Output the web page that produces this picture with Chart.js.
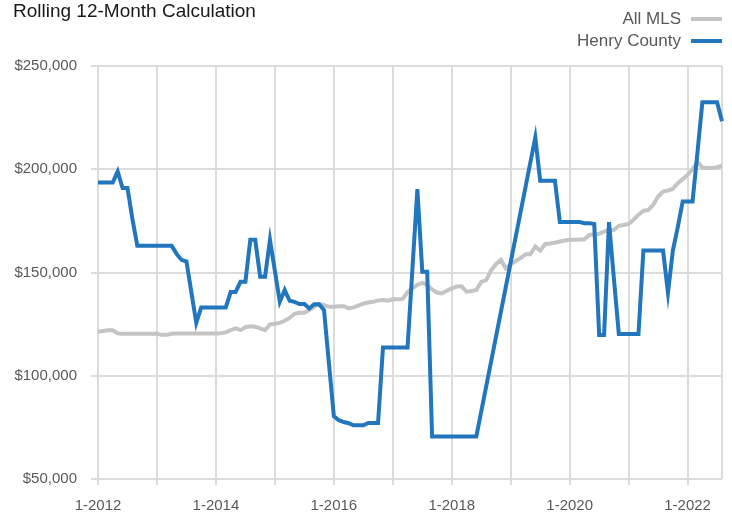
<!DOCTYPE html>
<html>
<head>
<meta charset="utf-8">
<script src="https://cdn.jsdelivr.net/npm/chart.js@4.4.6/dist/chart.umd.min.js"></script>
<style>
  html, body { margin: 0; padding: 0; background: #fff; }
  #wrap { position: relative; width: 732px; height: 514px; font-family: "Liberation Sans", Arial, sans-serif; }
  #title { position: absolute; left: 13px; top: 0; font-size: 19px; line-height: 22px; color: #1a1a1a; }
  .leg { position: absolute; right: 10px; display: flex; align-items: center; height: 22px; font-size: 17px; line-height: 22px; color: #595959; }
  .leg i { display: inline-block; width: 31px; height: 4px; margin-left: 10px; }
  canvas { position: absolute; left: 0; top: 0; }
</style>
</head>
<body>
<div id="wrap">
  <canvas id="chart" width="732" height="514"></canvas>
  <div id="title">Rolling 12-Month Calculation</div>
  <div class="leg" style="top:8px">All MLS<i style="background:#c4c4c4"></i></div>
  <div class="leg" style="top:30px">Henry County<i style="background:#2176bd"></i></div>
</div>
<script>
// monthly labels 1-2012 .. 8-2022
const months = []
for (let y = 2012; y <= 2022; y++) {
  for (let m = 1; m <= 12; m++) {
    if (y === 2022 && m > 8) break
    months.push(m + "-" + y)
  }
}

// values in $ thousands
const allMLS = [
  121.3, 121.7, 122.0, 122.0, 120.5, 120.3, 120.3, 120.3, 120.3, 120.3, 120.3, 120.3,
  120.3, 119.8, 119.8, 120.3, 120.5, 120.5, 120.5, 120.5, 120.5, 120.5, 120.5, 120.5,
  120.5, 120.6, 121.0, 122.1, 122.9, 122.1, 123.5, 124.0, 123.7, 122.9, 122.1, 124.9,
  125.2, 125.6, 126.6, 128.0, 130.0, 130.5, 130.5, 131.8, 133.4, 134.7, 134.2, 133.4,
  133.4, 133.6, 133.7, 132.6, 133.1, 134.0, 134.9, 135.5, 135.8, 136.5, 136.7, 136.3,
  137.0, 137.0, 137.2, 140.5, 142.3, 144.0, 145.1, 144.0, 141.8, 140.3, 139.9, 141.2,
  142.3, 143.2, 143.3, 140.7, 141.0, 141.5, 145.5, 146.3, 151.0, 154.0, 156.1, 152.0,
  154.0, 155.5, 157.0, 158.8, 158.8, 162.6, 160.6, 163.7, 164.0, 164.4, 165.0, 165.5,
  165.8, 165.8, 166.0, 166.1, 168.2, 168.5, 168.7, 169.8, 170.6, 170.6, 172.6, 173.0,
  173.5, 175.5, 178.0, 179.8, 180.3, 182.8, 186.8, 189.2, 189.7, 190.5, 193.3, 195.2,
  197.3, 200.0, 203.5, 200.8, 200.6, 200.6, 201.0, 201.7
]

// null = no sales that month, line spans the gap
const henryCounty = [
  193.6, 193.6, 193.6, 193.6, 198.9, 190.9, 190.9, 176.0, 162.9, 162.9, 162.9, 162.9,
  162.9, 162.9, 162.9, 162.9, 159.0, 156.1, 155.3, 140.5, 125.6, 133.1, 133.1, 133.1,
  133.1, 133.1, 133.1, 140.5, 140.5, 145.5, 145.5, 165.8, 165.8, 148.0, 148.0, 165.8,
  150.8, 135.8, 141.5, 136.3, 135.8, 134.7, 134.7, 132.6, 134.6, 134.6, 131.8, 106.0,
  80.4, 78.5, 77.6, 77.0, 76.0, 76.0, 76.0, 77.1, 77.1, 77.1, 113.7, 113.7,
  113.7, 113.7, 113.7, 113.7, 152.0, 190.4, 150.4, 150.4, 70.6, 70.6, 70.6, 70.6,
  70.6, 70.6, 70.6, 70.6, 70.6, 70.6, null, null, null, null, null, null,
  null, null, null, null, null, 215.4, 194.4, 194.4, 194.4, 194.4, 174.4, 174.4,
  174.4, 174.4, 174.4, 173.9, 173.9, 173.5, 119.7, 119.7, 174.4, 147.0, 120.2, 120.2,
  120.2, 120.2, 120.2, 160.6, 160.6, 160.6, 160.6, 160.6, 140.2, 160.6, 172.0, 184.4,
  184.4, 184.4, 208.0, 232.4, 232.4, 232.4, 232.4, 223.2
]

const yTicks = [50000, 100000, 150000, 200000, 250000]

const gridColor = "#dcdcdc"
const tickText = "#595959"
const last = months.length - 1

new Chart(document.getElementById("chart"), {
  type: "line",
  data: {
    labels: months,
    datasets: [
      {
        label: "Henry County",
        data: henryCounty.map((v) => (v == null ? null : v * 1000)),
        borderColor: "#2176bd",
        borderWidth: 4,
        pointRadius: 0,
        spanGaps: true
      },
      {
        label: "All MLS",
        data: allMLS.map((v) => v * 1000),
        borderColor: "#c4c4c4",
        borderWidth: 4,
        pointRadius: 0
      }
    ]
  },
  options: {
    responsive: false,
    devicePixelRatio: 1,
    animation: false,
    layout: { padding: { top: 66, right: 10, left: 0, bottom: 0 } },
    plugins: { legend: { display: false }, title: { display: false }, tooltip: { enabled: false } },
    scales: {
      x: {
        border: { display: false },
        grid: {
          color: (ctx) => (ctx.index % 12 === 0 || ctx.index === last ? gridColor : "transparent"),
          tickColor: (ctx) => (ctx.index % 12 === 0 ? gridColor : "transparent"),
          lineWidth: 2,
          tickLength: 6
        },
        ticks: {
          autoSkip: false,
          maxRotation: 0,
          padding: 12,
          color: tickText,
          font: { family: "'Liberation Sans', Arial", size: 15 },
          callback: (v, i) => (i % 24 === 0 ? months[i] : "")
        },
        // label padding would otherwise also pad the right edge
        afterFit: (scale) => { scale.height = 35; scale.paddingRight = 0 }
      },
      y: {
        min: yTicks[0],
        max: yTicks[yTicks.length - 1],
        border: { display: false },
        grid: { color: gridColor, lineWidth: 2, tickLength: 7 },
        afterBuildTicks: (scale) => { scale.ticks = yTicks.map((value) => ({ value })) },
        ticks: {
          padding: 14,
          color: tickText,
          font: { family: "'Liberation Sans', Arial", size: 15 },
          callback: (v) => "$" + v.toLocaleString("en-US")
        },
        afterFit: (scale) => { scale.width = 98 }
      }
    }
  }
})
</script>
</body>
</html>
